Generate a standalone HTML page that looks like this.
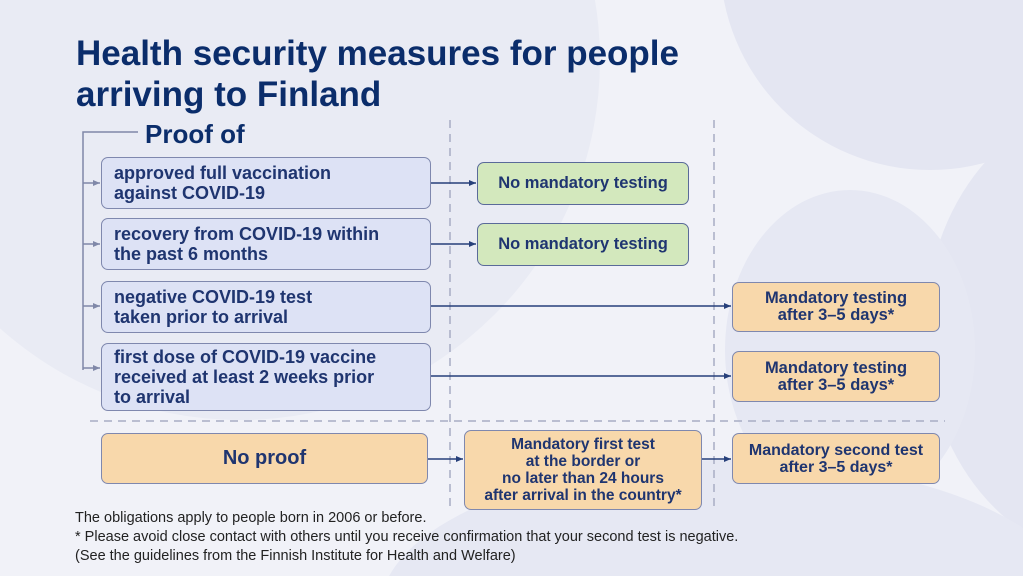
<!DOCTYPE html>
<html><head><meta charset="utf-8"><style>
body{margin:0;overflow:hidden}
#c{position:relative;width:1023px;height:576px;overflow:hidden;background:#f1f2f8;font-family:"Liberation Sans",sans-serif;color:#1f3570}
.circ{position:absolute;border-radius:50%;background:#e4e6f2}
.b{position:absolute;box-sizing:border-box;border:1.5px solid #7f88ae;border-radius:7px;font-weight:bold;display:flex;align-items:center;white-space:nowrap}
.p{background:#dde2f5;padding-left:12px;font-size:18px;line-height:20px}
.g{background:#d3e8bd;justify-content:center;font-size:16.5px;border-color:#5a6a99}
.o{background:#f8d8ab;justify-content:center;text-align:center;font-size:16.5px;line-height:17px}
.t{position:absolute;white-space:nowrap}
</style></head><body><div id="c">
<div class="circ" style="left:-120px;top:-300px;width:720px;height:720px;background:#e9ebf4"></div>
<div class="circ" style="left:720px;top:-250px;width:420px;height:420px"></div>
<div class="circ" style="left:925px;top:100px;width:380px;height:460px"></div>
<div class="circ" style="left:725px;top:190px;width:250px;height:320px;background:#e6e8f3"></div>
<div class="circ" style="left:380px;top:460px;width:700px;height:300px;background:#e6e8f3"></div>
<div class="t" style="left:76px;top:33px;font-size:35px;font-weight:bold;line-height:41px;color:#0b2d6b">Health security measures for people<br>arriving to Finland</div>
<div class="t" style="left:145px;top:119px;font-size:26px;font-weight:bold;color:#0b2d6b">Proof of</div>
<svg style="position:absolute;left:0;top:0" width="1023" height="576">
<defs><marker id="a" markerWidth="8" markerHeight="8" refX="7" refY="4" orient="auto" markerUnits="userSpaceOnUse"><path d="M0,1 L7,4 L0,7z" fill="#27407a"/></marker>
<marker id="a2" markerWidth="8" markerHeight="8" refX="7" refY="4" orient="auto" markerUnits="userSpaceOnUse"><path d="M0,1 L7,4 L0,7z" fill="#8088a8"/></marker></defs>
<g stroke="#8088a8" stroke-width="1.5" fill="none">
<path d="M138,132 H83 V370"/>
<path d="M83,183 H100" marker-end="url(#a2)"/><path d="M83,244 H100" marker-end="url(#a2)"/>
<path d="M83,306 H100" marker-end="url(#a2)"/><path d="M83,368 H100" marker-end="url(#a2)"/>
</g>
<g stroke="#a8adc4" stroke-width="1.5" stroke-dasharray="8,6">
<path d="M450,120 V512"/><path d="M714,120 V512"/><path d="M90,421 H945"/>
</g>
<g stroke="#27407a" stroke-width="1.5">
<path d="M431,183 H476" marker-end="url(#a)"/><path d="M431,244 H476" marker-end="url(#a)"/>
<path d="M431,306 H731" marker-end="url(#a)"/><path d="M431,376 H731" marker-end="url(#a)"/>
<path d="M428,459 H463" marker-end="url(#a)"/><path d="M702,459 H731" marker-end="url(#a)"/>
</g></svg>
<div class="b p" style="left:101px;top:157px;width:330px;height:52px">approved full vaccination<br>against COVID-19</div>
<div class="b p" style="left:101px;top:218px;width:330px;height:52px">recovery from COVID-19 within<br>the past 6 months</div>
<div class="b p" style="left:101px;top:281px;width:330px;height:52px">negative COVID-19 test<br>taken prior to arrival</div>
<div class="b p" style="left:101px;top:343px;width:330px;height:68px">first dose of COVID-19 vaccine<br>received at least 2 weeks prior<br>to arrival</div>
<div class="b g" style="left:477px;top:162px;width:212px;height:43px">No mandatory testing</div>
<div class="b g" style="left:477px;top:223px;width:212px;height:43px">No mandatory testing</div>
<div class="b o" style="left:732px;top:282px;width:208px;height:50px">Mandatory testing<br>after 3–5 days*</div>
<div class="b o" style="left:732px;top:351px;width:208px;height:51px">Mandatory testing<br>after 3–5 days*</div>
<div class="b o" style="left:101px;top:433px;width:327px;height:51px;font-size:20px">No proof</div>
<div class="b o" style="left:464px;top:430px;width:238px;height:80px;font-size:15.5px">Mandatory first test<br>at the border or<br>no later than 24 hours<br>after arrival in the country*</div>
<div class="b o" style="left:732px;top:433px;width:208px;height:51px;font-size:16px">Mandatory second test<br>after 3–5 days*</div>
<div class="t" style="left:75px;top:509px;font-size:14.5px;line-height:19px;color:#222">The obligations apply to people born in 2006 or before.<br>* Please avoid close contact with others until you receive confirmation that your second test is negative.<br>(See the guidelines from the Finnish Institute for Health and Welfare)</div>
</div></body></html>
